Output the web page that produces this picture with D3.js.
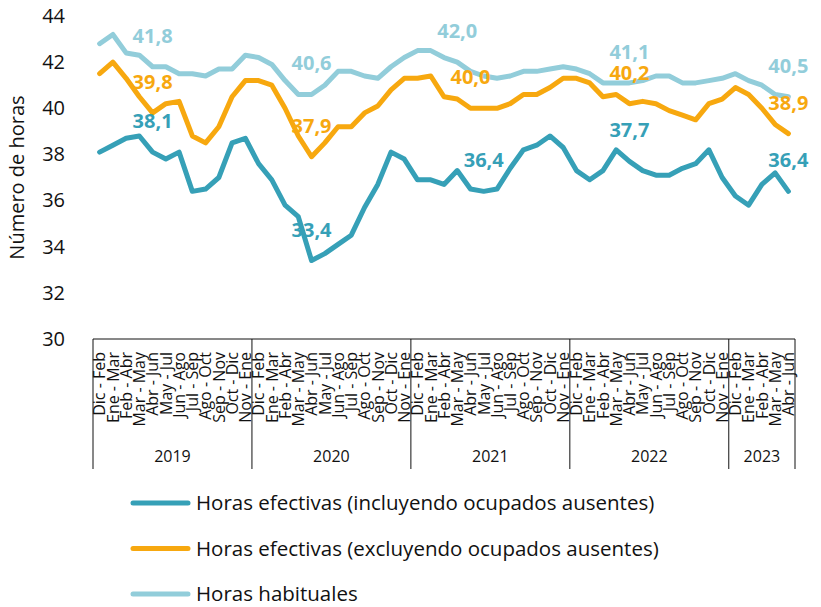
<!DOCTYPE html>
<html>
<head>
<meta charset="utf-8">
<script src="https://cdn.jsdelivr.net/npm/d3@7"></script>
<style>
  body { margin: 0; background: #fff; }
  svg { font-family: "Open Sans", "Noto Sans", sans-serif; }
</style>
</head>
<body>
<svg width="821" height="607"></svg>
<script>
// categorias (trimestres moviles) y años
const years = ['2019', '2020', '2021', '2022', '2023'];
const periods = ['Dic - Feb', 'Ene - Mar', 'Feb - Abr', 'Mar - May', 'Abr - Jun', 'May - Jul',
  'Jun - Ago', 'Jul - Sep', 'Ago - Oct', 'Sep - Nov', 'Oct - Dic', 'Nov - Ene'];
const periods2023 = ['Dic - Feb', 'Ene - Mar', 'Feb - Abr', 'Mar - May', 'Abr - Jun'];

const yTicks = [30, 32, 34, 36, 38, 40, 42, 44];

// Horas efectivas (incluyendo ocupados ausentes)
const efectivasIncl = [38.1, 38.4, 38.7, 38.8, 38.1, 37.8, 38.1, 36.4, 36.5, 37.0, 38.5, 38.7,
  37.6, 36.9, 35.8, 35.3, 33.4, 33.7, 34.1, 34.5, 35.7, 36.7, 38.1, 37.8,
  36.9, 36.9, 36.7, 37.3, 36.5, 36.4, 36.5, 37.4, 38.2, 38.4, 38.8, 38.3,
  37.3, 36.9, 37.3, 38.2, 37.7, 37.3, 37.1, 37.1, 37.4, 37.6, 38.2, 37.0,
  36.2, 35.8, 36.7, 37.2, 36.4];

// Horas efectivas (excluyendo ocupados ausentes)
const efectivasExcl = [41.5, 42.0, 41.3, 40.5, 39.8, 40.2, 40.3, 38.8, 38.5, 39.2, 40.5, 41.2,
  41.2, 41.0, 40.0, 38.8, 37.9, 38.5, 39.2, 39.2, 39.8, 40.1, 40.8, 41.3,
  41.3, 41.4, 40.5, 40.4, 40.0, 40.0, 40.0, 40.2, 40.6, 40.6, 40.9, 41.3,
  41.3, 41.1, 40.5, 40.6, 40.2, 40.3, 40.2, 39.9, 39.7, 39.5, 40.2, 40.4,
  40.9, 40.6, 40.0, 39.3, 38.9];

// Horas habituales
const habituales = [42.8, 43.2, 42.4, 42.3, 41.8, 41.8, 41.5, 41.5, 41.4, 41.7, 41.7, 42.3,
  42.2, 41.9, 41.2, 40.6, 40.6, 41.0, 41.6, 41.6, 41.4, 41.3, 41.8, 42.2,
  42.5, 42.5, 42.2, 42.0, 41.6, 41.4, 41.3, 41.4, 41.6, 41.6, 41.7, 41.8,
  41.7, 41.5, 41.1, 41.1, 41.1, 41.2, 41.4, 41.4, 41.1, 41.1, 41.2, 41.3,
  41.5, 41.2, 41.0, 40.6, 40.5];

// etiquetas de datos: indice del punto y valor mostrado
const labelsIncl = [[4, 38.1], [16, 33.4], [29, 36.4], [40, 37.7], [52, 36.4]];
const labelsExcl = [[4, 39.8], [16, 37.9], [28, 40.0], [40, 40.2], [52, 38.9]];
const labelsHab = [[4, 41.8], [16, 40.6], [27, 42.0], [40, 41.1], [52, 40.5]];

const seriesNames = ['Horas efectivas (incluyendo ocupados ausentes)',
  'Horas efectivas (excluyendo ocupados ausentes)', 'Horas habituales'];
const colors = ['#36A0B7', '#F7A80F', '#92CDDA'];

const categories = [];
years.forEach(yr => (yr === '2023' ? periods2023 : periods).forEach(p => categories.push({year: yr, label: p})));

const svg = d3.select('svg');
const mLeft = 93, mRight = 795, mTop = 16, mBottom = 339;

const x = d3.scaleBand().domain(d3.range(categories.length)).range([mLeft, mRight]);
const y = d3.scaleLinear().domain([30, 44]).range([mBottom, mTop]);
const cx = i => x(i) + x.bandwidth() / 2;

// eje y
const yAxis = svg.append('g')
  .attr('transform', `translate(${mLeft},0)`)
  .call(d3.axisLeft(y).tickValues(yTicks).tickSize(0).tickPadding(28));
yAxis.select('.domain').remove();
yAxis.selectAll('text').style('font-size', '20px').style('fill', '#111').style('font-family', 'Open Sans');

svg.append('text')
  .attr('transform', `translate(24,${(mTop + mBottom) / 2}) rotate(-90)`)
  .attr('text-anchor', 'middle')
  .style('font-size', '20px')
  .style('fill', '#111')
  .text('Número de horas');

// eje x (categorias)
const xAxis = svg.append('g')
  .attr('transform', `translate(0,${mBottom})`)
  .call(d3.axisBottom(x).tickSize(0).tickFormat(i => categories[i].label));
xAxis.select('.domain').attr('stroke', '#111').attr('d', `M${mLeft},0H${mRight}`);
xAxis.selectAll('text')
  .attr('transform', 'rotate(-90)')
  .attr('x', -13)
  .attr('y', 0)
  .attr('dy', '0.36em')
  .style('text-anchor', 'end')
  .style('font-size', '16px')
  .style('fill', '#111')
  .style('font-family', 'Open Sans');

// separadores de años y etiquetas
const yearStarts = years.map(yr => categories.findIndex(c => c.year === yr));
const bounds = yearStarts.map(i => x(i)).concat([mRight]);
svg.append('g').selectAll('line')
  .data(bounds)
  .join('line')
  .attr('x1', d => d).attr('x2', d => d)
  .attr('y1', mBottom).attr('y2', mBottom + 130)
  .attr('stroke', '#111');

svg.append('g').selectAll('text')
  .data(years)
  .join('text')
  .attr('x', (d, i) => (bounds[i] + bounds[i + 1]) / 2)
  .attr('y', mBottom + 123)
  .attr('text-anchor', 'middle')
  .style('font-size', '16px')
  .style('fill', '#111')
  .text(d => d);

// lineas
const line = d3.line().x((d, i) => cx(i)).y(d => y(d));
const allSeries = [efectivasIncl, efectivasExcl, habituales];
const drawOrder = [2, 1, 0];
drawOrder.forEach(k => {
  svg.append('path')
    .datum(allSeries[k])
    .attr('fill', 'none')
    .attr('stroke', colors[k])
    .attr('stroke-width', 5)
    .attr('stroke-linejoin', 'round')
    .attr('stroke-linecap', 'round')
    .attr('d', line);
});

// etiquetas de datos
const allLabels = [labelsIncl, labelsExcl, labelsHab];
allLabels.forEach((labs, k) => {
  svg.append('g').selectAll('text')
    .data(labs)
    .join('text')
    .attr('x', d => cx(d[0]))
    .attr('y', d => y(d[1]) - 31)
    .attr('dy', '0.35em')
    .attr('text-anchor', 'middle')
    .style('font-size', '20px')
    .style('font-weight', 'bold')
    .style('fill', colors[k])
    .text(d => d3.format('.1f')(d[1]).replace('.', ','));
});

// leyenda
const legend = svg.append('g').selectAll('g')
  .data(seriesNames)
  .join('g')
  .attr('transform', (d, i) => `translate(133,${503 + i * 45.5})`);
legend.append('line')
  .attr('x1', 0).attr('x2', 55)
  .attr('stroke', (d, i) => colors[i])
  .attr('stroke-width', 5)
  .attr('stroke-linecap', 'round');
legend.append('text')
  .attr('x', 63)
  .attr('dy', '0.35em')
  .style('font-size', '20.5px')
  .style('fill', '#111')
  .text(d => d);
</script>
</body>
</html>
